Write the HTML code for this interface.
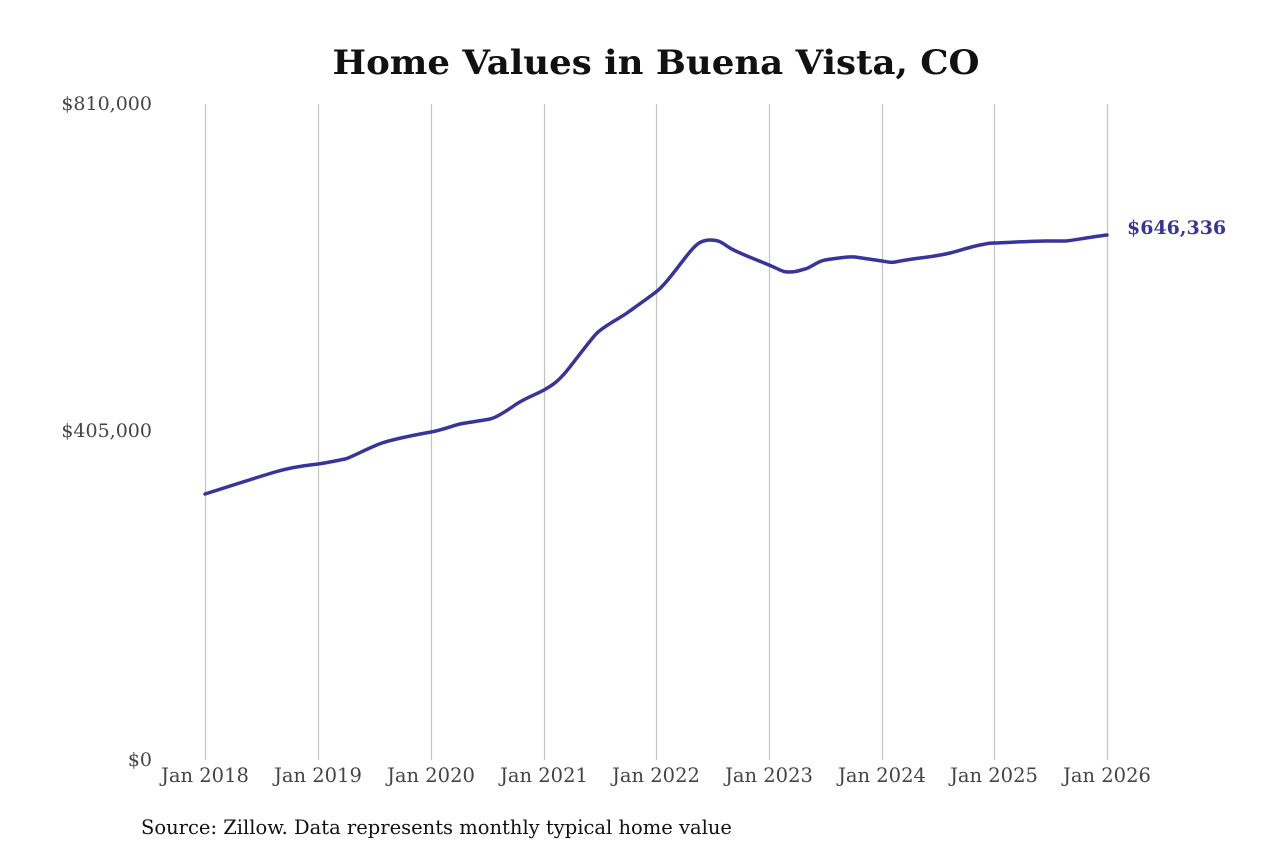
<!DOCTYPE html>
<html><head><style>
html,body{margin:0;padding:0;background:#fff;}
body{width:1280px;height:853px;overflow:hidden;}
svg text{font-family:"DejaVu Serif","Liberation Serif",serif;}
</style></head><body>
<svg width="1280" height="853" viewBox="0 0 1280 853" xmlns="http://www.w3.org/2000/svg">
<text x="656" y="74" text-anchor="middle" font-size="34" font-weight="bold" fill="#111" textLength="647" lengthAdjust="spacingAndGlyphs">Home Values in Buena Vista, CO</text>
<g stroke="#c4c4c4" stroke-width="1.2">
<line x1="205.5" y1="104" x2="205.5" y2="760"/>
<line x1="318.5" y1="104" x2="318.5" y2="760"/>
<line x1="431.5" y1="104" x2="431.5" y2="760"/>
<line x1="544.5" y1="104" x2="544.5" y2="760"/>
<line x1="656.5" y1="104" x2="656.5" y2="760"/>
<line x1="769.5" y1="104" x2="769.5" y2="760"/>
<line x1="882.5" y1="104" x2="882.5" y2="760"/>
<line x1="994.5" y1="104" x2="994.5" y2="760"/>
<line x1="1107.5" y1="104" x2="1107.5" y2="760"/>
</g>
<g font-size="19" fill="#444" text-anchor="end">
<text x="152" y="110">$810,000</text>
<text x="152" y="437">$405,000</text>
<text x="152" y="766">$0</text>
</g>
<g font-size="19.5" fill="#444" text-anchor="middle">
<text x="205" y="782">Jan 2018</text>
<text x="318" y="782">Jan 2019</text>
<text x="431" y="782">Jan 2020</text>
<text x="544" y="782">Jan 2021</text>
<text x="656" y="782">Jan 2022</text>
<text x="769" y="782">Jan 2023</text>
<text x="882" y="782">Jan 2024</text>
<text x="994" y="782">Jan 2025</text>
<text x="1107" y="782">Jan 2026</text>
</g>
<path fill="none" stroke="#38349a" stroke-width="3.5" stroke-linejoin="round" stroke-linecap="round"
d="M205,494 C230,486 255,478 275,472 S310,465 318,464 S340,460 345,459 S370,447 382,443 S420,434 431,432 S455,425 460,424 S485,420 490,419 S505,412 515,405 S535,395 544,390 S558,381 565,373 S590,340 597,333 S620,318 627,313 S648,298 656,292 S675,271 685,258 S700,240 710,240 S722,243 730,248 S755,259 769,265 S782,272 790,272 S800,270 805,269 S818,261 825,260 S848,256 855,257 S875,260 882,261 S890,263 895,262 S912,259 920,258 S942,255 950,253 S970,247 980,245 S990,243 994,243 S1035,241 1045,241 S1060,241 1065,241 S1090,237 1107,235"/>
<text x="1127" y="234" font-size="19" font-weight="bold" fill="#38349a">$646,336</text>
<text x="141" y="834" font-size="19.5" fill="#111">Source: Zillow. Data represents monthly typical home value</text>
</svg>
</body></html>
